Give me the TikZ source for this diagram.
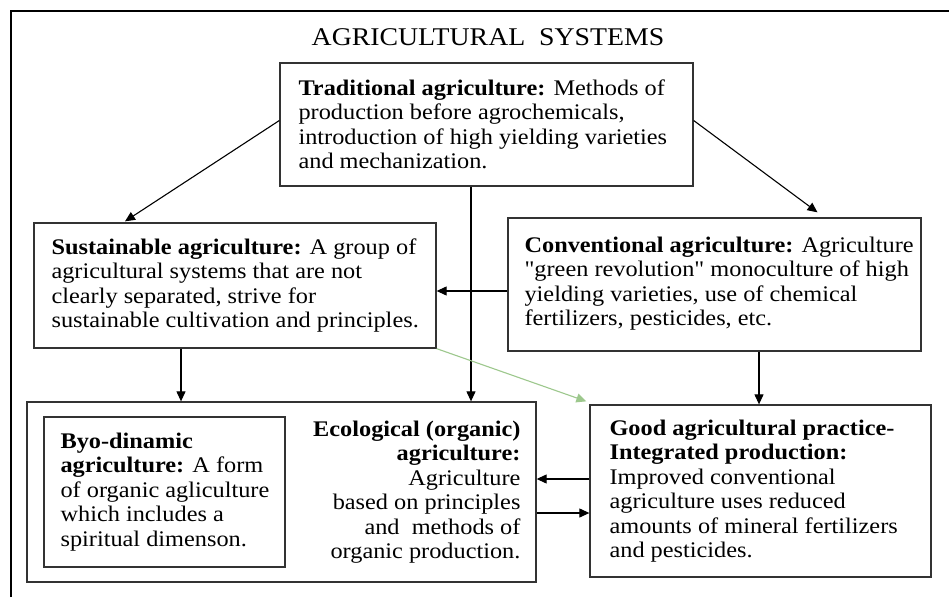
\documentclass[tikz,border=0pt]{standalone}
\usepackage{fontspec}
\setmainfont{Liberation Serif}[FakeStretch=1.09,Ligatures=TeXOff]
\usetikzlibrary{arrows.meta,calc}
\definecolor{boxline}{HTML}{333333}
\definecolor{softgreen}{HTML}{9DC88D}
\begin{document}
\begin{tikzpicture}[x=1pt,y=-1pt,
  box/.style={draw=boxline,line width=1.3pt,rectangle,inner sep=0pt},
  txt/.style={inner sep=0pt,align=left,font=\fontsize{22.3}{24.5}\selectfont},
  txtr/.style={inner sep=0pt,align=right,font=\fontsize{22.3}{24.5}\selectfont},
  arr/.style={draw=black,line width=1.1pt,-{Triangle[length=10pt,width=9pt]}},
  garr/.style={draw=softgreen,line width=1.1pt,-{Triangle[length=10pt,width=9pt]}},
  frame/.style={draw=black,line width=1.8pt}]
\useasboundingbox (0,0) rectangle (949,597);
\fill[white] (0,0) rectangle (949,597);

% page frame (left and top rules)
\draw[frame] (11,597) -- (11,11) -- (949,11);

% heading
\node[anchor=base,inner sep=0pt,font=\fontsize{25.5}{28}\selectfont] (title) at (488,45) {AGRICULTURAL\ \ SYSTEMS};

% boxes
\node[box,minimum width=413pt,minimum height=123pt] (trad) at (486.5,124.5) {};
\node[box,minimum width=402pt,minimum height=125pt] (sust) at (235,285.5) {};
\node[box,minimum width=413pt,minimum height=133pt] (conv) at (714.5,284.5) {};
\node[box,minimum width=509pt,minimum height=180pt] (big) at (281.5,492) {};
\node[box,minimum width=241pt,minimum height=150pt] (byo) at (164.5,492) {};
\node[box,minimum width=341pt,minimum height=172pt] (good) at (760.5,491) {};

% box texts
\node[txt,anchor=west] (tradtxt) at ([xshift=19pt]trad.west)
  {\textbf{Traditional agriculture:} Methods of\\
   production before agrochemicals,\\
   introduction of high yielding varieties\\
   and mechanization.};
\node[txt,anchor=west] (susttxt) at ([xshift=18pt]sust.west)
  {\textbf{Sustainable agriculture:} A group of\\
   agricultural systems that are not\\
   clearly separated, strive for\\
   sustainable cultivation and principles.};
\node[txt,anchor=west] (convtxt) at ([xshift=17pt,yshift=1pt]conv.west)
  {\textbf{Conventional agriculture:} Agriculture\\
   "green revolution" monoculture of high\\
   yielding varieties, use of chemical\\
   fertilizers, pesticides, etc.};
\node[txt,anchor=west] (byotxt) at ([xshift=17pt]byo.west)
  {\textbf{Byo-dinamic}\\
   \textbf{agriculture:} A form\\
   of organic agliculture\\
   which includes a\\
   spiritual dimenson.};
\node[txtr,anchor=east] (ecotxt) at ([xshift=-16pt]big.east)
  {\textbf{Ecological (organic)}\\
   \textbf{agriculture:}\\
   Agriculture\\
   based on principles\\
   and\ \ methods of\\
   organic production.};
\node[txt,anchor=west] (goodtxt) at ([xshift=20pt]good.west)
  {\textbf{Good agricultural practice-}\\
   \textbf{Integrated production:}\\
   Improved conventional\\
   agriculture uses reduced\\
   amounts of mineral fertilizers\\
   and pesticides.};

% connectors
\draw[arr] ([yshift=4pt]trad.west) -- ([xshift=-110pt,yshift=1pt]sust.north);
\draw[arr] ([yshift=4pt]trad.east) -- ([xshift=103pt,yshift=5pt]conv.north);
\draw[arr] ([xshift=-15.5pt]trad.south) -- ([xshift=-15.5pt]trad.south |- big.north);
\draw[arr] ([yshift=-6.5pt]conv.west) -- ([yshift=-6.5pt]conv.west -| sust.east);
\draw[arr] ([xshift=-54pt]sust.south) -- ([xshift=-54pt]sust.south |- big.north);
\draw[arr] ([xshift=44.5pt]conv.south) -- ([xshift=44.5pt]conv.south |- good.north);
\draw[garr] (sust.south east) -- ([xshift=-3pt,yshift=3pt]good.north west);
\draw[arr] ([yshift=12pt]good.west) -- ([yshift=12pt]good.west -| big.east);
\draw[arr] ([yshift=-21pt]big.east) -- ([yshift=-21pt]big.east -| good.west);
\end{tikzpicture}
\end{document}
